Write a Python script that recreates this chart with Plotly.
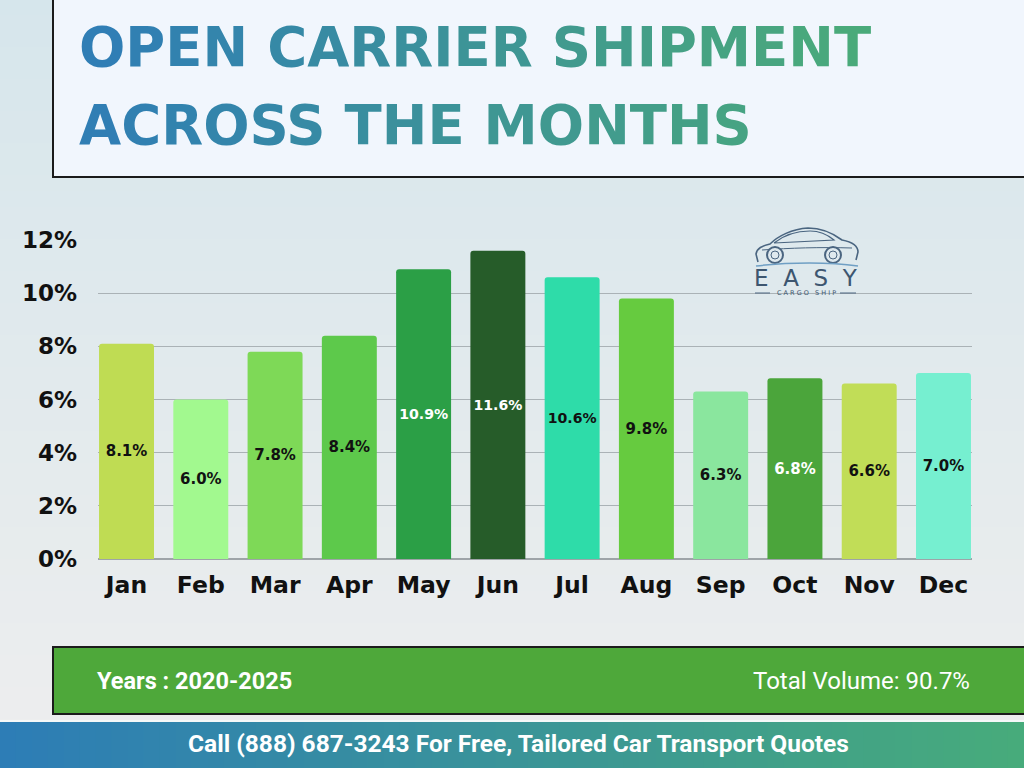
import plotly.graph_objects as go

months = ["Jan", "Feb", "Mar", "Apr", "May", "Jun", "Jul", "Aug", "Sep", "Oct", "Nov", "Dec"]
share = [8.1, 6.0, 7.8, 8.4, 10.9, 11.6, 10.6, 9.8, 6.3, 6.8, 6.6, 7.0]
bar_colors = ["#BFDC53", "#A2F98F", "#7ED957", "#5DC94B", "#2B9F46", "#265C29",
              "#2EDCA9", "#66CB3F", "#8AE69E", "#4BA53B", "#C1DD57", "#76EFD0"]
label_colors = ["#111", "#111", "#111", "#111", "#fff", "#fff",
                "#111", "#111", "#111", "#fff", "#111", "#111"]
y_ticks = [0, 2, 4, 6, 8, 10, 12]
y_tick_labels = ["0%", "2%", "4%", "6%", "8%", "10%", "12%"]

title_lines = ["OPEN CARRIER SHIPMENT", "ACROSS THE MONTHS"]
years_text = "Years : 2020-2025"
total_text = "Total Volume: 90.7%"
cta_text = "Call (888) 687-3243 For Free, Tailored Car Transport Quotes"

W, H = 1024, 768
L, R, T, B = 98, 972, 240, 559


def lerp(c1, c2, t):
    a = [int(c1[i:i + 2], 16) for i in (1, 3, 5)]
    b = [int(c2[i:i + 2], 16) for i in (1, 3, 5)]
    return "#%02x%02x%02x" % tuple(round(a[k] + (b[k] - a[k]) * t) for k in range(3))


def px(x):
    return (x - L) / (R - L)


def py(y):
    return (B - y) / (B - T)


def ppath(cmds):
    """cmds: list of (letter, [x,y,...]) in page pixels -> paper path string"""
    out = []
    for c, vals in cmds:
        pts = []
        for i in range(0, len(vals), 2):
            pts.append(f"{px(vals[i]):.5f},{py(vals[i + 1]):.5f}")
        out.append(c + " " + " ".join(pts))
    return " ".join(out)


fig = go.Figure()
fig.add_trace(go.Bar(
    x=months, y=share,
    marker=dict(color=bar_colors, line=dict(width=0), cornerradius=3),
    text=[f"{v:.1f}%" for v in share],
    textposition="inside", insidetextanchor="middle",
    textfont=dict(family="DejaVu Sans", size=15, color=label_colors, weight="bold"),
    textangle=0,
    width=0.74,
    hoverinfo="skip",
))

shapes = []
# page background vertical gradient
n = 48
for i in range(n):
    t = i / (n - 1)
    shapes.append(dict(type="rect", xref="paper", yref="paper", layer="below",
                       x0=px(-5), x1=px(W + 5), y0=py(H * (i + 1) / n + 1), y1=py(H * i / n - 1),
                       fillcolor=lerp("#d6e6ec", "#eeeeee", t), line=dict(width=0)))

# title box
shapes.append(dict(type="rect", xref="paper", yref="paper", x0=px(53), x1=px(1030), y0=py(177), y1=py(-5),
                   fillcolor="#f1f6fd", line=dict(color="#1b1b1b", width=2)))
# green banner
shapes.append(dict(type="rect", xref="paper", yref="paper", x0=px(53), x1=px(1030), y0=py(714), y1=py(647),
                   fillcolor="#4EA83A", line=dict(color="#1b1b1b", width=2)))
# bottom bar gradient
m = 64
for i in range(m):
    t = i / (m - 1)
    shapes.append(dict(type="rect", xref="paper", yref="paper",
                       x0=px(i * W / m - 0.5), x1=px((i + 1) * W / m + 0.5), y0=py(770), y1=py(722),
                       fillcolor=lerp("#2d7db6", "#47ab7b", t), line=dict(width=0)))
shapes.append(dict(type="line", xref="paper", yref="paper", x0=px(0), x1=px(W), y0=py(721), y1=py(721),
                   line=dict(color="#f5f8f8", width=2)))

# logo: car outline
logo_col = "#4a6580"
car_body = ppath([
    ("M", [758, 262]), ("L", [756, 254]),
    ("C", [757, 248, 762, 246, 770, 244]),
    ("C", [778, 236, 792, 229, 808, 228]),
    ("C", [822, 228, 834, 234, 842, 240]),
    ("C", [852, 242, 858, 246, 858, 252]),
    ("L", [856, 260]),
])
shapes.append(dict(type="path", xref="paper", yref="paper", path=car_body,
                   line=dict(color=logo_col, width=1.6)))
car_window = ppath([
    ("M", [774, 243]), ("C", [784, 235, 796, 231, 810, 231]),
    ("C", [820, 231, 828, 235, 834, 240]), ("L", [774, 243]),
])
shapes.append(dict(type="path", xref="paper", yref="paper", path=car_window,
                   line=dict(color=logo_col, width=1.2)))
car_line = ppath([("M", [762, 250]), ("C", [790, 248, 820, 247, 852, 248])])
shapes.append(dict(type="path", xref="paper", yref="paper", path=car_line,
                   line=dict(color=logo_col, width=1)))
for cx in (775, 833):
    shapes.append(dict(type="circle", xref="paper", yref="paper",
                       x0=px(cx - 8), x1=px(cx + 8), y0=py(263), y1=py(247),
                       fillcolor="#dfe9ee", line=dict(color=logo_col, width=2)))
    shapes.append(dict(type="circle", xref="paper", yref="paper",
                       x0=px(cx - 4), x1=px(cx + 4), y0=py(259), y1=py(251),
                       line=dict(color=logo_col, width=1)))
swoosh = ppath([("M", [756, 266]), ("C", [790, 262, 830, 262, 858, 266])])
shapes.append(dict(type="path", xref="paper", yref="paper", path=swoosh,
                   line=dict(color="#6f9fc4", width=1.5)))
for xa, xb in ((755, 770), (840, 856)):
    shapes.append(dict(type="line", xref="paper", yref="paper", x0=px(xa), x1=px(xb), y0=py(293), y1=py(293),
                       line=dict(color=logo_col, width=1)))

annotations = []
# gradient title via per-character colors
c_start, c_end = "#2f7db6", "#4bab78"
title_x0, title_x1 = 80, 870
line_widths = [788, 665]
for li, (line, lw) in enumerate(zip(title_lines, line_widths)):
    parts = []
    for ci, ch in enumerate(line):
        xpos = title_x0 + lw * (ci + 0.5) / len(line)
        t = (xpos - title_x0) / (title_x1 - title_x0)
        parts.append(f"<span style='color:{lerp(c_start, c_end, t)}'>{ch}</span>")
    annotations.append(dict(xref="paper", yref="paper", x=px(77), y=py(47 + li * 78),
                            xanchor="left", yanchor="middle", showarrow=False,
                            text="".join(parts),
                            font=dict(family="DejaVu Sans", size=54.5, weight="bold")))

annotations.append(dict(xref="paper", yref="paper", x=px(806), y=py(278), xanchor="center", yanchor="middle",
                        showarrow=False, text="E  A  S  Y",
                        font=dict(family="DejaVu Sans", size=23, color="#3d5670")))
annotations.append(dict(xref="paper", yref="paper", x=px(806), y=py(293), xanchor="center", yanchor="middle",
                        showarrow=False, text="C A R G O   S H I P",
                        font=dict(family="DejaVu Sans", size=6.5, color="#3d5670")))

annotations.append(dict(xref="paper", yref="paper", x=px(95), y=py(681), xanchor="left", yanchor="middle",
                        showarrow=False, text=f"<b>{years_text}</b>",
                        font=dict(family="Roboto", size=23.5, color="#ffffff")))
annotations.append(dict(xref="paper", yref="paper", x=px(972), y=py(681), xanchor="right", yanchor="middle",
                        showarrow=False, text=total_text,
                        font=dict(family="Roboto", size=24, color="#ffffff")))
annotations.append(dict(xref="paper", yref="paper", x=px(518), y=py(743), xanchor="center", yanchor="middle",
                        showarrow=False, text=f"<b>{cta_text}</b>",
                        font=dict(family="Roboto", size=24.5, color="#ffffff")))

fig.update_layout(
    width=W, height=H,
    margin=dict(l=L, r=W - R, t=T, b=H - B, pad=0),
    paper_bgcolor="#e4ebee", plot_bgcolor="rgba(0,0,0,0)",
    showlegend=False,
    bargap=0.26,
    shapes=shapes,
    annotations=annotations,
    xaxis=dict(range=[-0.384, 11.384], showgrid=False, showline=False, ticks="",
               tickfont=dict(family="DejaVu Sans", size=23.5, color="#111111", weight="bold"),
               ticklabelstandoff=9),
    yaxis=dict(range=[0, 12], tickvals=y_ticks, ticktext=y_tick_labels,
               showgrid=True, gridcolor="#aab2b6", gridwidth=1,
               zeroline=True, zerolinecolor="#9ea4a8", zerolinewidth=1.5,
               tickfont=dict(family="DejaVu Sans", size=23, color="#111111", weight="bold"),
               ticklabelstandoff=20, showline=False),
)

fig.write_html("out.html")
